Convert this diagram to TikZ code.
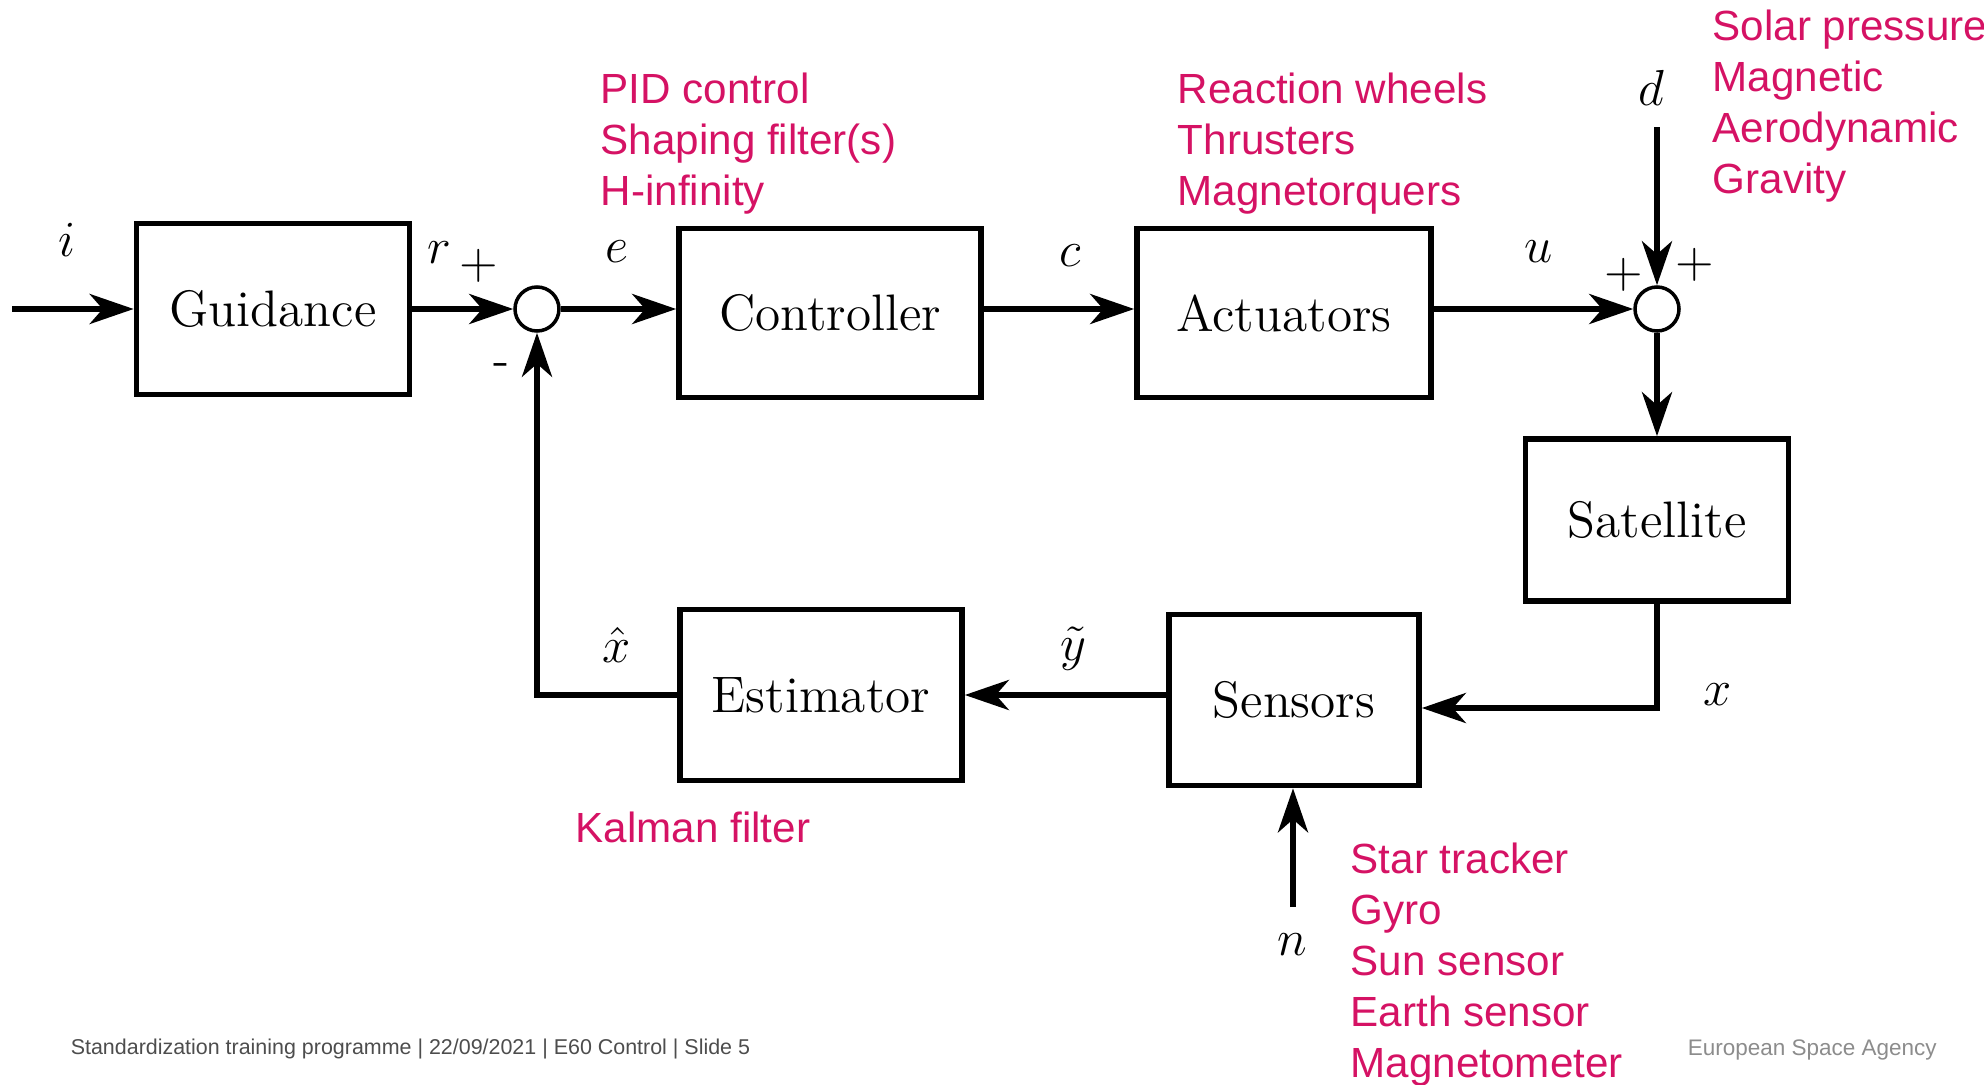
\documentclass[tikz,border=0pt]{standalone}
\usepackage{fontspec}
\usepackage{tikz}
\usetikzlibrary{arrows.meta}
\usetikzlibrary{positioning}
\newfontfamily\arialfont{Liberation Sans}
\definecolor{esared}{RGB}{213, 18, 100}
\definecolor{footgray}{RGB}{77, 77, 77}
\definecolor{esagray}{RGB}{140, 140, 140}
\tikzset{->/.style = {-{Stealth[length=4.4mm, width=3.0mm, inset=1.3mm]}}}
\tikzset{block/.style = {draw, line width=1.6pt, inner sep=0pt,
                         font=\fontsize{14.6}{17}\selectfont}}
\tikzset{sum/.style = {draw, circle, line width=1pt, minimum size=4.4mm, inner sep=0pt}}
\tikzset{note/.style = {anchor=base west, inner sep=0pt, text=esared,
                        font=\arialfont\fontsize{12}{14}\selectfont}}
\tikzset{sig/.style = {anchor=base, inner sep=0pt, font=\fontsize{15.5}{18}\selectfont}}
\tikzset{sign/.style = {inner sep=0pt, font=\fontsize{14}{17}\selectfont}}

\begin{document}
\begin{tikzpicture}[x=0.1mm, y=-0.1mm, line width=1.6pt]
    \useasboundingbox (0, 0) rectangle (1984, 1084);

    \node [block, minimum width=27.3mm, minimum height=17.1mm] (guid) at (273, 309) {Guidance};
    \node [block, minimum width=30.2mm, minimum height=16.9mm] (ctrl) at (830, 313) {Controller};
    \node [block, minimum width=29.4mm, minimum height=16.9mm] (act) at (1284, 313) {Actuators};
    \node [block, minimum width=26.3mm, minimum height=16.2mm] (sat) at (1657, 520) {Satellite};
    \node [block, minimum width=28.2mm, minimum height=17.1mm] (est) at (821, 695) {Estimator};
    \node [block, minimum width=25.0mm, minimum height=17.1mm] (sens) at (1294, 700) {Sensors};

    \node [sum] (sum1) at (537, 309) {};
    \node [sum] (sum2) at (1657, 309) {};

    \coordinate (in) at (12, 309);
    \coordinate (din) at (1657, 127);
    \coordinate (nin) at (1293, 907);

    \draw [->] (in) -- (guid);
    \draw [->] (guid) -- (sum1);
    \draw [->] (sum1) -- (sum1 -| ctrl.west);
    \draw [->] (ctrl.east |- sum1) -- (act.west |- sum1);
    \draw [->] (act.east |- sum2) -- (sum2);
    \draw [->] (din) -- (sum2);
    \draw [->] (sum2) -- (sat);
    \draw [->] (sat) |- ([yshift=-0.8mm]sens.east);
    \draw [->] (sens.west |- est) -- (est);
    \draw [->] (est) -| (sum1);
    \draw [->] (nin) -- (nin |- sens.south);

    \node [sig] (lab-i) at (67, 256) {$i$};
    \node [sig] (lab-r) at (439, 263) {$r$};
    \node [sig] (lab-e) at (617, 262) {$e$};
    \node [sig] (lab-c) at (1070, 266) {$c$};
    \node [sig] (lab-u) at (1539, 262) {$u$};
    \node [sig] (lab-d) at (1651, 105) {$d$};
    \node [sig] (lab-x) at (1718, 705) {$x$};
    \node [sig] (lab-xh) at (617, 662) {$\hat{x}$};
    \node [sig] (lab-yt) at (1073, 660) {$\tilde{y}$};
    \node [sig] (lab-n) at (1292, 955) {$n$};
    \node [sign] (plus1) at (479, 266) {$+$};
    \node [sign] (minus1) at (502, 370) {-};
    \node [sign] (plus2) at (1624, 275) {$+$};
    \node [sign] (plus3) at (1695, 265) {$+$};

    \foreach \txt [count=\k] in {PID control, Shaping filter(s), H-infinity}
        \node [note] (ctrl-note\k) at (598, {103 + 51.3*(\k-1)}) {\txt};
    \foreach \txt [count=\k] in {Reaction wheels, Thrusters, Magnetorquers}
        \node [note] (act-note\k) at (1175, {103 + 51.3*(\k-1)}) {\txt};
    \foreach \txt [count=\k] in {Solar pressure, Magnetic, Aerodynamic, Gravity}
        \node [note] (dist-note\k) at (1710, {40 + 51.3*(\k-1)}) {\txt};
    \node [note] (est-note) at (573, 842) {Kalman filter};
    \foreach \txt [count=\k] in {Star tracker, Gyro, Sun sensor, Earth sensor, Magnetometer}
        \node [note] (sens-note\k) at (1348, {873 + 51*(\k-1)}) {\txt};

    \node [anchor=base west, inner sep=0pt, text=footgray, font=\arialfont\fontsize{6.1}{7}\selectfont]
        (footer) at (68, 1054) {Standardization training programme | 22/09/2021 | E60 Control | Slide 5};
    \node [anchor=base west, inner sep=0pt, text=esagray, font=\arialfont\fontsize{6.4}{8}\selectfont]
        (agency) at (1685, 1055) {European Space Agency};
\end{tikzpicture}
\end{document}
